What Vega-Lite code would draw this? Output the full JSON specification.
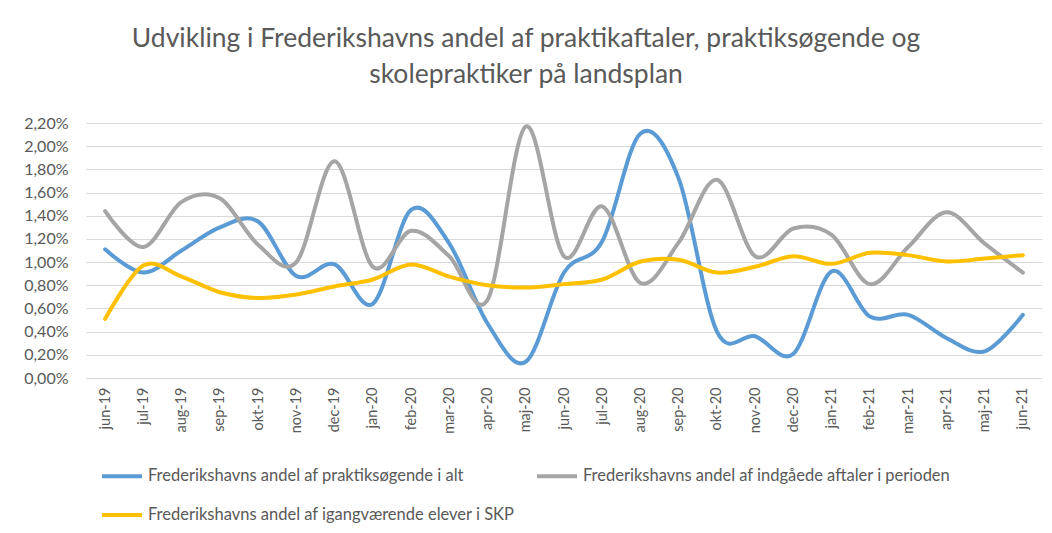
{
  "$schema": "https://vega.github.io/schema/vega-lite/v6.json",
  "autosize": {"type": "none"},
  "width": 956,
  "height": 255,
  "padding": {"left": 86, "top": 123, "right": 10, "bottom": 155},
  "background": "white",
  "title": {
    "text": ["Udvikling i Frederikshavns andel af praktikaftaler, praktiksøgende og", "skolepraktiker på landsplan"],
    "anchor": "middle",
    "dx": -38,
    "offset": 27,
    "font": "Lato",
    "fontSize": 26.5,
    "fontWeight": "normal",
    "color": "#595959",
    "lineHeight": 36
  },
  "data": {
    "values": [
      {"m": "jun-19", "s": "Frederikshavns andel af praktiksøgende i alt", "v": 1.11},
      {"m": "jul-19", "s": "Frederikshavns andel af praktiksøgende i alt", "v": 0.91},
      {"m": "aug-19", "s": "Frederikshavns andel af praktiksøgende i alt", "v": 1.10},
      {"m": "sep-19", "s": "Frederikshavns andel af praktiksøgende i alt", "v": 1.30},
      {"m": "okt-19", "s": "Frederikshavns andel af praktiksøgende i alt", "v": 1.35},
      {"m": "nov-19", "s": "Frederikshavns andel af praktiksøgende i alt", "v": 0.88},
      {"m": "dec-19", "s": "Frederikshavns andel af praktiksøgende i alt", "v": 0.98},
      {"m": "jan-20", "s": "Frederikshavns andel af praktiksøgende i alt", "v": 0.64},
      {"m": "feb-20", "s": "Frederikshavns andel af praktiksøgende i alt", "v": 1.45},
      {"m": "mar-20", "s": "Frederikshavns andel af praktiksøgende i alt", "v": 1.16},
      {"m": "apr-20", "s": "Frederikshavns andel af praktiksøgende i alt", "v": 0.47},
      {"m": "maj-20", "s": "Frederikshavns andel af praktiksøgende i alt", "v": 0.14},
      {"m": "jun-20", "s": "Frederikshavns andel af praktiksøgende i alt", "v": 0.91},
      {"m": "jul-20", "s": "Frederikshavns andel af praktiksøgende i alt", "v": 1.18},
      {"m": "aug-20", "s": "Frederikshavns andel af praktiksøgende i alt", "v": 2.11},
      {"m": "sep-20", "s": "Frederikshavns andel af praktiksøgende i alt", "v": 1.72},
      {"m": "okt-20", "s": "Frederikshavns andel af praktiksøgende i alt", "v": 0.40},
      {"m": "nov-20", "s": "Frederikshavns andel af praktiksøgende i alt", "v": 0.36},
      {"m": "dec-20", "s": "Frederikshavns andel af praktiksøgende i alt", "v": 0.21},
      {"m": "jan-21", "s": "Frederikshavns andel af praktiksøgende i alt", "v": 0.92},
      {"m": "feb-21", "s": "Frederikshavns andel af praktiksøgende i alt", "v": 0.53},
      {"m": "mar-21", "s": "Frederikshavns andel af praktiksøgende i alt", "v": 0.545},
      {"m": "apr-21", "s": "Frederikshavns andel af praktiksøgende i alt", "v": 0.345},
      {"m": "maj-21", "s": "Frederikshavns andel af praktiksøgende i alt", "v": 0.23},
      {"m": "jun-21", "s": "Frederikshavns andel af praktiksøgende i alt", "v": 0.545},
      {"m": "jun-19", "s": "Frederikshavns andel af indgåede aftaler i perioden", "v": 1.44},
      {"m": "jul-19", "s": "Frederikshavns andel af indgåede aftaler i perioden", "v": 1.13},
      {"m": "aug-19", "s": "Frederikshavns andel af indgåede aftaler i perioden", "v": 1.52},
      {"m": "sep-19", "s": "Frederikshavns andel af indgåede aftaler i perioden", "v": 1.55},
      {"m": "okt-19", "s": "Frederikshavns andel af indgåede aftaler i perioden", "v": 1.15},
      {"m": "nov-19", "s": "Frederikshavns andel af indgåede aftaler i perioden", "v": 1.00},
      {"m": "dec-19", "s": "Frederikshavns andel af indgåede aftaler i perioden", "v": 1.87},
      {"m": "jan-20", "s": "Frederikshavns andel af indgåede aftaler i perioden", "v": 0.96},
      {"m": "feb-20", "s": "Frederikshavns andel af indgåede aftaler i perioden", "v": 1.27},
      {"m": "mar-20", "s": "Frederikshavns andel af indgåede aftaler i perioden", "v": 1.05},
      {"m": "apr-20", "s": "Frederikshavns andel af indgåede aftaler i perioden", "v": 0.675},
      {"m": "maj-20", "s": "Frederikshavns andel af indgåede aftaler i perioden", "v": 2.17},
      {"m": "jun-20", "s": "Frederikshavns andel af indgåede aftaler i perioden", "v": 1.05},
      {"m": "jul-20", "s": "Frederikshavns andel af indgåede aftaler i perioden", "v": 1.48},
      {"m": "aug-20", "s": "Frederikshavns andel af indgåede aftaler i perioden", "v": 0.82},
      {"m": "sep-20", "s": "Frederikshavns andel af indgåede aftaler i perioden", "v": 1.17},
      {"m": "okt-20", "s": "Frederikshavns andel af indgåede aftaler i perioden", "v": 1.71},
      {"m": "nov-20", "s": "Frederikshavns andel af indgåede aftaler i perioden", "v": 1.05},
      {"m": "dec-20", "s": "Frederikshavns andel af indgåede aftaler i perioden", "v": 1.29},
      {"m": "jan-21", "s": "Frederikshavns andel af indgåede aftaler i perioden", "v": 1.235},
      {"m": "feb-21", "s": "Frederikshavns andel af indgåede aftaler i perioden", "v": 0.81},
      {"m": "mar-21", "s": "Frederikshavns andel af indgåede aftaler i perioden", "v": 1.13},
      {"m": "apr-21", "s": "Frederikshavns andel af indgåede aftaler i perioden", "v": 1.43},
      {"m": "maj-21", "s": "Frederikshavns andel af indgåede aftaler i perioden", "v": 1.16},
      {"m": "jun-21", "s": "Frederikshavns andel af indgåede aftaler i perioden", "v": 0.91},
      {"m": "jun-19", "s": "Frederikshavns andel af igangværende elever i SKP", "v": 0.51},
      {"m": "jul-19", "s": "Frederikshavns andel af igangværende elever i SKP", "v": 0.97},
      {"m": "aug-19", "s": "Frederikshavns andel af igangværende elever i SKP", "v": 0.875},
      {"m": "sep-19", "s": "Frederikshavns andel af igangværende elever i SKP", "v": 0.74},
      {"m": "okt-19", "s": "Frederikshavns andel af igangværende elever i SKP", "v": 0.69},
      {"m": "nov-19", "s": "Frederikshavns andel af igangværende elever i SKP", "v": 0.72},
      {"m": "dec-19", "s": "Frederikshavns andel af igangværende elever i SKP", "v": 0.79},
      {"m": "jan-20", "s": "Frederikshavns andel af igangværende elever i SKP", "v": 0.85},
      {"m": "feb-20", "s": "Frederikshavns andel af igangværende elever i SKP", "v": 0.98},
      {"m": "mar-20", "s": "Frederikshavns andel af igangværende elever i SKP", "v": 0.875},
      {"m": "apr-20", "s": "Frederikshavns andel af igangværende elever i SKP", "v": 0.80},
      {"m": "maj-20", "s": "Frederikshavns andel af igangværende elever i SKP", "v": 0.78},
      {"m": "jun-20", "s": "Frederikshavns andel af igangværende elever i SKP", "v": 0.81},
      {"m": "jul-20", "s": "Frederikshavns andel af igangværende elever i SKP", "v": 0.85},
      {"m": "aug-20", "s": "Frederikshavns andel af igangværende elever i SKP", "v": 1.005},
      {"m": "sep-20", "s": "Frederikshavns andel af igangværende elever i SKP", "v": 1.02},
      {"m": "okt-20", "s": "Frederikshavns andel af igangværende elever i SKP", "v": 0.91},
      {"m": "nov-20", "s": "Frederikshavns andel af igangværende elever i SKP", "v": 0.96},
      {"m": "dec-20", "s": "Frederikshavns andel af igangværende elever i SKP", "v": 1.05},
      {"m": "jan-21", "s": "Frederikshavns andel af igangværende elever i SKP", "v": 0.985},
      {"m": "feb-21", "s": "Frederikshavns andel af igangværende elever i SKP", "v": 1.08},
      {"m": "mar-21", "s": "Frederikshavns andel af igangværende elever i SKP", "v": 1.06},
      {"m": "apr-21", "s": "Frederikshavns andel af igangværende elever i SKP", "v": 1.005},
      {"m": "maj-21", "s": "Frederikshavns andel af igangværende elever i SKP", "v": 1.03},
      {"m": "jun-21", "s": "Frederikshavns andel af igangværende elever i SKP", "v": 1.06}
    ]
  },
  "mark": {"type": "line", "interpolate": "cardinal", "strokeWidth": 4, "strokeCap": "round"},
  "encoding": {
    "x": {
      "field": "m",
      "type": "nominal",
      "sort": null,
      "scale": {"type": "point", "padding": 0.5},
      "axis": {
        "title": null,
        "labelAngle": -90,
        "labelAlign": "right",
        "labelBaseline": "middle",
        "labelPadding": 9,
        "labelFont": "Lato",
        "labelFontSize": 14.5,
        "labelColor": "#595959",
        "ticks": false,
        "domain": false,
        "grid": false
      }
    },
    "y": {
      "field": "v",
      "type": "quantitative",
      "scale": {"domain": [0, 2.2], "nice": false},
      "axis": {
        "title": null,
        "values": [0, 0.2, 0.4, 0.6, 0.8, 1.0, 1.2, 1.4, 1.6, 1.8, 2.0, 2.2],
        "labelExpr": "replace(format(datum.value, '.2f'), '.', ',') + '%'",
        "labelFont": "Lato",
        "labelFontSize": 16,
        "labelColor": "#595959",
        "labelPadding": 18,
        "ticks": false,
        "domain": false,
        "grid": true,
        "gridColor": "#d9d9d9",
        "gridWidth": 1.2
      }
    },
    "color": {
      "field": "s",
      "type": "nominal",
      "scale": {
        "domain": ["Frederikshavns andel af praktiksøgende i alt", "Frederikshavns andel af indgåede aftaler i perioden", "Frederikshavns andel af igangværende elever i SKP"],
        "range": ["#5B9BD5", "#A5A5A5", "#FFC000"]
      },
      "legend": {
        "title": null,
        "orient": "none",
        "legendX": 14,
        "legendY": 331,
        "direction": "horizontal",
        "columns": 2,
        "columnPadding": 14,
        "rowPadding": 8,
        "symbolType": "stroke",
        "symbolSize": 1600,
        "symbolStrokeWidth": 4,
        "labelFont": "Lato",
        "labelFontSize": 16.5,
        "labelColor": "#595959",
        "labelOffset": 4,
        "labelLimit": 500
      }
    }
  },
  "config": {"view": {"stroke": null}}
}
